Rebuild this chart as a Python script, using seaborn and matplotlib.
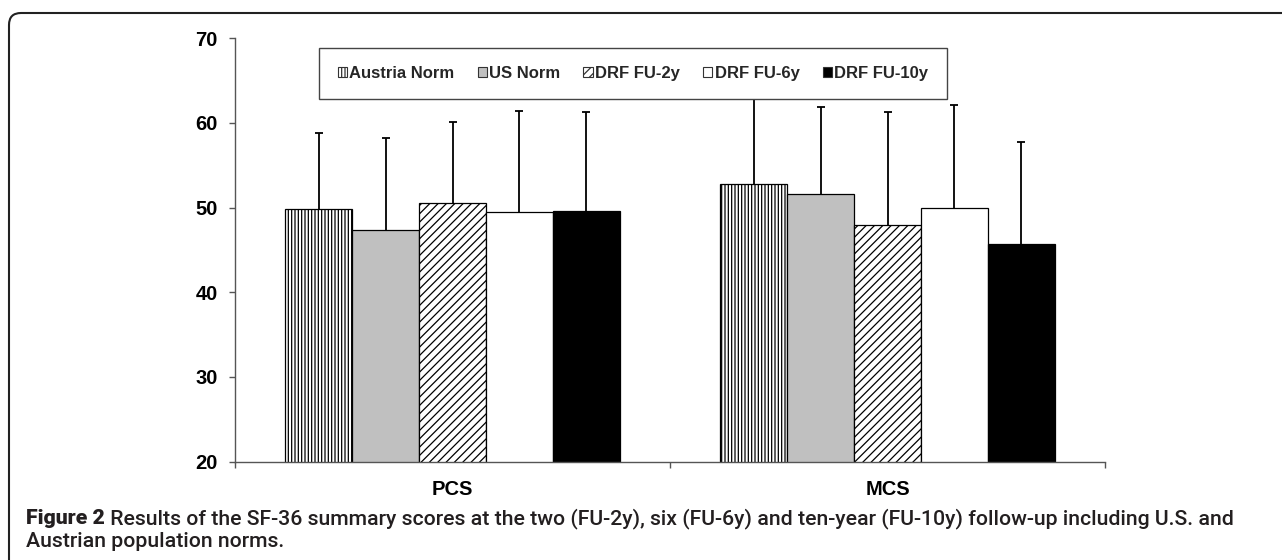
import matplotlib
matplotlib.use('Agg')
import matplotlib.pyplot as plt
import matplotlib.patches as mpatches
from matplotlib.patches import FancyBboxPatch
from matplotlib.transforms import IdentityTransform
import seaborn as sns
import pandas as pd

# ---------------- data ----------------
scales = ['PCS', 'MCS']
groups = ['Austria Norm', 'US Norm', 'DRF FU-2y', 'DRF FU-6y', 'DRF FU-10y']
pcs_mean = [49.8, 47.3, 50.6, 49.5, 49.6]
pcs_sd = [9.0, 10.9, 9.5, 11.9, 11.7]
mcs_mean = [52.8, 51.6, 47.9, 49.9, 45.7]
mcs_sd = [11.0, 10.3, 13.4, 12.2, 12.0]
yticks = [20, 30, 40, 50, 60, 70]
caption_bold = 'Figure 2'
caption_line1 = (' Results of the SF-36 summary scores at the two (FU-2y), six (FU-6y) '
                 'and ten-year (FU-10y) follow-up including U.S. and')
caption_line2 = 'Austrian population norms.'

# ---------------- styles ----------------
colors = ['white', '#c0c0c0', 'white', 'white', 'black']
hatches = ['|||||', '', '////', '', '']

rows = []
for g, pm, ps, mm, ms in zip(groups, pcs_mean, pcs_sd, mcs_mean, mcs_sd):
    rows.append({'scale': 'PCS', 'group': g, 'mean': pm, 'sd': ps})
    rows.append({'scale': 'MCS', 'group': g, 'mean': mm, 'sd': ms})
df = pd.DataFrame(rows)

sns.set_style('white')
plt.rcParams['font.family'] = ['Liberation Sans', 'DejaVu Sans']
plt.rcParams['hatch.linewidth'] = 0.9

W, H = 1282, 560
fig = plt.figure(figsize=(W / 100, H / 100), dpi=100)
ax = fig.add_axes([235 / W, (H - 461.5) / H, 870 / W, 423.2 / H])

sns.barplot(data=df, x='scale', y='mean', hue='group', order=scales, hue_order=groups,
            palette=dict(zip(groups, colors)), width=0.768, edgecolor='black',
            linewidth=0.9, errorbar=None, saturation=1, legend=False, ax=ax)

for cont, h, g in zip(ax.containers, hatches, groups):
    for bar in cont:
        bar.set_hatch(h)
    sub = df[df['group'] == g].set_index('scale').loc[scales]
    xs = [b.get_x() + b.get_width() / 2 for b in cont]
    eb = ax.errorbar(xs, sub['mean'].values, yerr=[[0] * len(xs), sub['sd'].values],
                     fmt='none', ecolor='black', elinewidth=1.3, capsize=3.2,
                     capthick=1.3, zorder=3)
    caps = eb.lines[1]
    if len(caps) == 2:
        caps[0].set_visible(False)

ax.set_ylim(20, 70)
ax.set_xlim(-0.5, 1.5)
ax.set_yticks(yticks)
ax.set_xticks(range(len(scales)))
ax.set_xticklabels(scales)
ax.set_xticks([-0.5, 0.5, 1.5], minor=True)
ax.set_xlabel('')
ax.set_ylabel('')
for s in ['top', 'right']:
    ax.spines[s].set_visible(False)
for s in ['left', 'bottom']:
    ax.spines[s].set_color('#555555')
    ax.spines[s].set_linewidth(1.0)
ax.tick_params(axis='y', left=True, direction='out', length=4.3, width=1,
               color='#555555', pad=8, labelsize=14.5)
ax.tick_params(axis='x', which='major', bottom=True, length=0, pad=13, labelsize=14.5)
ax.tick_params(axis='x', which='minor', bottom=True, direction='out', length=4,
               width=1, color='#555555')
for lab in ax.get_xticklabels() + ax.get_yticklabels():
    lab.set_fontweight('bold')
    lab.set_color('black')

handles = [mpatches.Patch(facecolor=c, edgecolor='#333333', hatch=h, linewidth=0.8)
           for c, h in zip(colors, hatches)]
leg = ax.legend(handles, groups, ncol=5, loc='center',
                bbox_to_anchor=(0.0874, 0.8518, 0.740, 0.130), mode='expand',
                frameon=True, fancybox=False, edgecolor='#444444', framealpha=1,
                borderpad=1.1, handlelength=0.55, handleheight=0.55,
                handletextpad=0.15, columnspacing=1.0,
                prop={'weight': 'bold', 'size': 12})
leg.get_frame().set_linewidth(1.0)
leg.set_zorder(10)

# outer rounded frame
frame = FancyBboxPatch((9, -40), 1500, 547 + 40, boxstyle='round,pad=0,rounding_size=12',
                       transform=IdentityTransform(), fill=False, edgecolor='#222222',
                       linewidth=1.5)
fig.add_artist(frame)

# caption
cap_kw = dict(family=['Roboto', 'DejaVu Sans'], color='#231f20', va='baseline')
fs = 13
x0 = 26 / W
t1 = fig.text(x0, (H - 524) / H, caption_bold, weight=800, fontsize=fs, **cap_kw)
t2 = fig.text(x0, (H - 524) / H, caption_line1, fontsize=fs, weight='medium', **cap_kw)
t3 = fig.text(x0, (H - 547) / H, caption_line2, fontsize=fs, weight='medium', **cap_kw)
fig.canvas.draw()
r = fig.canvas.get_renderer()
total = t1.get_window_extent(r).width + t2.get_window_extent(r).width
scale = (1232 - 26) / total
for t in (t1, t2, t3):
    t.set_fontsize(fs * scale)
fig.canvas.draw()
e1 = t1.get_window_extent(r)
t2.set_x(e1.x1 / W)

fig.savefig('out.png', dpi=100)
